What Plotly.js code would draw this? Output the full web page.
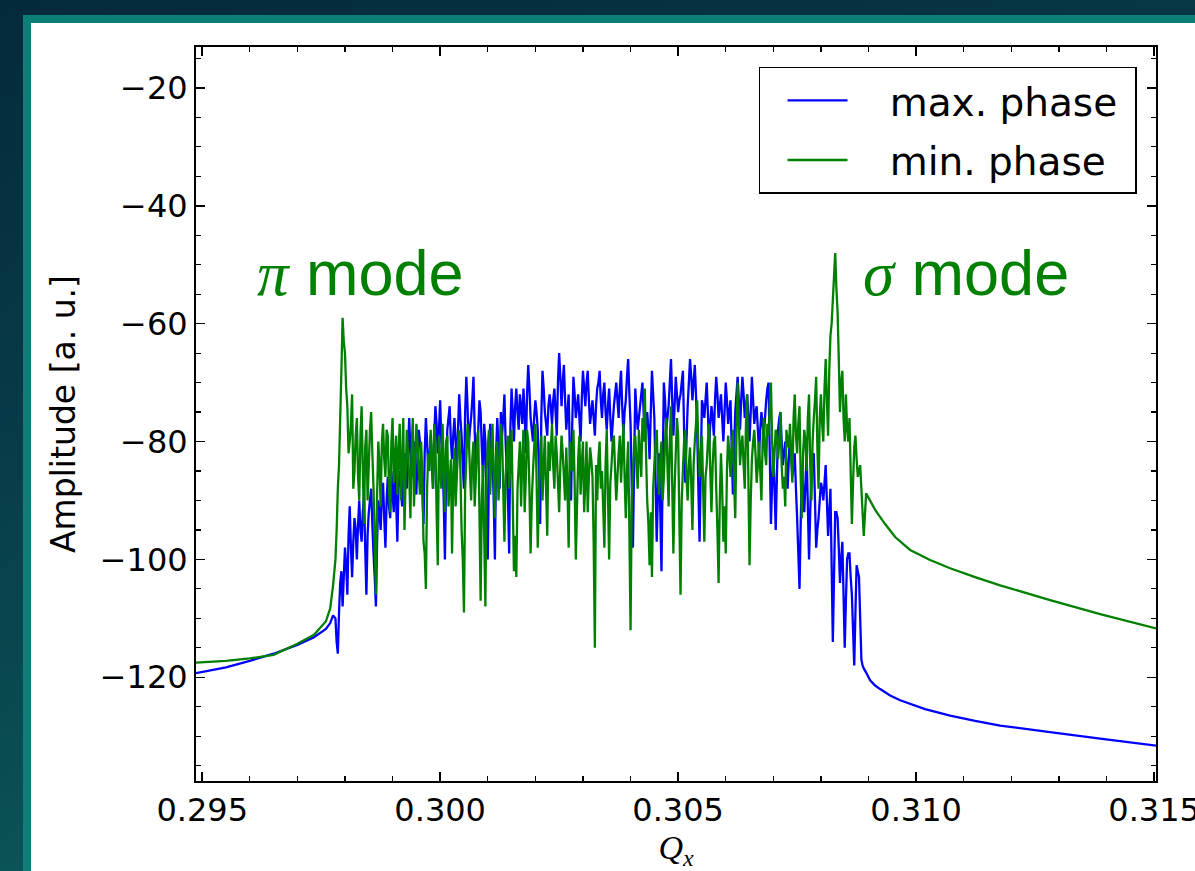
<!DOCTYPE html>
<html>
<head>
<meta charset="utf-8">
<script src="https://cdn.plot.ly/plotly-3.0.1.min.js"></script>
<style>
  html, body { margin:0; padding:0; width:1195px; height:871px; overflow:hidden; }
  body { background: linear-gradient(165deg, #04293a 0%, #073a48 35%, #0a5456 75%, #0b5c5a 100%); position:relative; }
  #frame { position:absolute; left:23px; top:15px; width:1172px; height:856px; background:#0b7f78; }
  #panel { position:absolute; left:31px; top:23px; width:1164px; height:848px; background:#ffffff; }
  #chart { position:absolute; left:0; top:0; width:1195px; height:871px; }
</style>
</head>
<body>
<div id="frame"></div>
<div id="panel"></div>
<div id="chart"></div>
<script>
// ---- data ----
// left smooth tails
const blueLeftQ = [0.29487, 0.29550, 0.29600, 0.29650, 0.29700, 0.29735, 0.29760, 0.29769, 0.29775];
const blueLeftA = [-119.3, -118.3, -117.2, -116.0, -114.5, -113.2, -111.8, -110.8, -109.5];
const greenLeftQ = [0.29487, 0.29550, 0.29600, 0.29650, 0.29700, 0.29735, 0.29760, 0.29769, 0.29775];
const greenLeftA = [-117.5, -117.2, -116.8, -116.2, -114.3, -112.8, -110.5, -108.3, -104.4];

// noisy band, first set of samples
const bandQ = [
0.29780,0.29785,0.29790,0.29795,0.29800,0.29805,0.29810,0.29815,0.29820,0.29825,
0.29830,0.29835,0.29840,0.29845,0.29850,0.29855,0.29860,0.29865,0.29870,0.29875,
0.29880,0.29885,0.29890,0.29895,0.29900,0.29905,0.29910,0.29915,0.29920,0.29925,
0.29930,0.29935,0.29940,0.29945,0.29950,0.29955,0.29960,0.29965,0.29970,0.29975,
0.29980,0.29985,0.29990,0.29995,0.30000,0.30005,0.30010,0.30015,0.30020,0.30025,
0.30030,0.30035,0.30040,0.30045,0.30050,0.30055,0.30060,0.30065,0.30070,0.30075,
0.30080,0.30085,0.30090,0.30095,0.30100,0.30105,0.30110,0.30115,0.30120,0.30125,
0.30130,0.30135,0.30140,0.30145,0.30150,0.30155,0.30160,0.30165,0.30170,0.30175,
0.30180,0.30185,0.30190,0.30195,0.30200,0.30205,0.30210,0.30215,0.30220,0.30225,
0.30230,0.30235,0.30240,0.30245,0.30250,0.30255,0.30260,0.30265,0.30270,0.30275,
0.30280,0.30285,0.30290,0.30295,0.30300,0.30305,0.30310,0.30315,0.30320,0.30325,
0.30330,0.30335,0.30340,0.30345,0.30350,0.30355,0.30360,0.30365,0.30370,0.30375,
0.30380,0.30385,0.30390,0.30395,0.30400,0.30405,0.30410,0.30415,0.30420,0.30425,
0.30430,0.30435,0.30440,0.30445,0.30450,0.30455,0.30460,0.30465,0.30470,0.30475,
0.30480,0.30485,0.30490,0.30495,0.30500,0.30505,0.30510,0.30515,0.30520,0.30525,
0.30530,0.30535,0.30540,0.30545,0.30550,0.30555,0.30560,0.30565,0.30570,0.30575,
0.30580,0.30585,0.30590,0.30595,0.30600,0.30605,0.30610,0.30615,0.30620,0.30625,
0.30630,0.30635,0.30640,0.30645,0.30650,0.30655,0.30660,0.30665,0.30670,0.30675,
0.30680,0.30685,0.30690,0.30695,0.30700,0.30705,0.30710,0.30715,0.30720,0.30725,
0.30730,0.30735,0.30740,0.30745,0.30750,0.30755,0.30760,0.30765,0.30770,0.30775,
0.30780,0.30785,0.30790,0.30795,0.30800,0.30805,0.30810,0.30815,0.30820,0.30825,
0.30830,0.30835,0.30840,0.30845,0.30850,0.30855,0.30860,0.30865,0.30870,0.30875,
0.30880,0.30885,0.30890];

const blueBandA = [
-110,-116,-104,-108,-98,-106,-91,-103,-93,-100,
-90,-97,-89,-106,-92,-88,-99,-108,-90,-95,
-87,-98,-86,-93,-89,-84,-97,-85,-91,-82,
-88,-76,-86,-80,-89,-78,-83,-94,-76,-85,
-79,-88,-74,-82,-73,-84,-100,-78,-74,-83,
-76,-85,-72,-79,-88,-69,-81,-76,-69,-84,
-78,-75,-86,-80,-100,-77,-83,-100,-76,-88,
-79,-72,-85,-99,-71,-80,-71,-78,-74,-71,
-82,-67,-76,-80,-73,-78,-94,-68,-75,-79,
-72,-77,-71,-79,-65,-74,-67,-78,-72,-90,
-69,-76,-72,-80,-68,-74,-68,-77,-73,-79,
-71,-68,-76,-70,-78,-71,-80,-74,-70,-76,
-68,-79,-73,-66,-77,-98,-71,-78,-74,-70,
-80,-75,-83,-68,-76,-97,-82,-102,-70,-78,
-74,-66,-79,-69,-75,-72,-68,-87,-74,-66,
-73,-67,-78,-97,-73,-76,-70,-81,-74,-79,
-69,-76,-72,-80,-70,-77,-73,-89,-75,-69,
-78,-69,-76,-72,-80,-69,-77,-74,-82,-75,
-79,-73,-70,-94,-81,-95,-78,-75,-84,-80,
-88,-79,-86,-82,-93,-105,-84,-92,-82,-100,
-85,-82,-98,-93,-87,-90,-84,-96,-88,-114,
-92,-93,-104,-97,-115,-100,-99,-106,-118,-101,
-103,-117,-118.5];

const greenBandA = [
-100,-88,-76,-59,-65,-74,-80,-72,-85,-76,
-90,-74,-94,-78,-84,-75,-88,-106,-80,-91,
-77,-86,-79,-92,-76,-83,-89,-77,-84,-95,
-78,-86,-81,-91,-77,-85,-80,-97,-105,-82,
-78,-88,-80,-101,-84,-77,-92,-79,-87,-99,
-81,-86,-78,-95,-109,-83,-79,-90,-80,-86,
-78,-107,-84,-108,-81,-89,-77,-93,-80,-85,
-79,-97,-82,-88,-78,-102,-103,-84,-91,-78,
-86,-80,-99,-85,-77,-98,-83,-90,-79,-96,
-85,-77,-88,-82,-92,-79,-86,-81,-98,-84,
-78,-100,-83,-89,-80,-87,-92,-81,-86,-115,
-90,-80,-85,-98,-78,-100,-84,-79,-90,-82,
-87,-77,-93,-80,-112,-85,-79,-88,-82,-76,
-71,-90,-101,-103,-84,-78,-89,-80,-86,-76,
-91,-74,-99,-82,-79,-106,-85,-78,-90,-81,
-95,-80,-73,-86,-79,-97,-84,-77,-92,-80,
-88,-104,-82,-97,-99,-79,-86,-78,-93,-70,
-84,-79,-88,-72,-101,-83,-78,-87,-80,-90,
-76,-84,-79,-70,-86,-78,-83,-75,-88,-91,
-80,-77,-87,-72,-82,-74,-93,-78,-85,-72,
-90,-76,-69,-88,-72,-80,-66,-79,-62,-56,
-48,-58,-75,-68,-80,-78,-76,-94,-81,-83,
-85,-88,-96];

// noisy band, second set of samples (between the first ones)
const band2Q = [
0.297825,0.297875,0.297925,0.297975,0.298025,0.298075,0.298125,0.298175,0.298225,0.298275,
0.298325,0.298375,0.298425,0.298475,0.298525,0.298575,0.298625,0.298675,0.298725,0.298775,
0.298825,0.298875,0.298925,0.298975,0.299025,0.299075,0.299125,0.299175,0.299225,0.299275,
0.299325,0.299375,0.299425,0.299475,0.299525,0.299575,0.299625,0.299675,0.299725,0.299775,
0.299825,0.299875,0.299925,0.299975,0.300025,0.300075,0.300125,0.300175,0.300225,0.300275,
0.300325,0.300375,0.300425,0.300475,0.300525,0.300575,0.300625,0.300675,0.300725,0.300775,
0.300825,0.300875,0.300925,0.300975,0.301025,0.301075,0.301125,0.301175,0.301225,0.301275,
0.301325,0.301375,0.301425,0.301475,0.301525,0.301575,0.301625,0.301675,0.301725,0.301775,
0.301825,0.301875,0.301925,0.301975,0.302025,0.302075,0.302125,0.302175,0.302225,0.302275,
0.302325,0.302375,0.302425,0.302475,0.302525,0.302575,0.302625,0.302675,0.302725,0.302775,
0.302825,0.302875,0.302925,0.302975,0.303025,0.303075,0.303125,0.303175,0.303225,0.303275,
0.303325,0.303375,0.303425,0.303475,0.303525,0.303575,0.303625,0.303675,0.303725,0.303775,
0.303825,0.303875,0.303925,0.303975,0.304025,0.304075,0.304125,0.304175,0.304225,0.304275,
0.304325,0.304375,0.304425,0.304475,0.304525,0.304575,0.304625,0.304675,0.304725,0.304775,
0.304825,0.304875,0.304925,0.304975,0.305025,0.305075,0.305125,0.305175,0.305225,0.305275,
0.305325,0.305375,0.305425,0.305475,0.305525,0.305575,0.305625,0.305675,0.305725,0.305775,
0.305825,0.305875,0.305925,0.305975,0.306025,0.306075,0.306125,0.306175,0.306225,0.306275,
0.306325,0.306375,0.306425,0.306475,0.306525,0.306575,0.306625,0.306675,0.306725,0.306775,
0.306825,0.306875,0.306925,0.306975,0.307025,0.307075,0.307125,0.307175,0.307225,0.307275,
0.307325,0.307375,0.307425,0.307475,0.307525,0.307575,0.307625,0.307675,0.307725,0.307775,
0.307825,0.307875,0.307925,0.307975,0.308025,0.308075,0.308125,0.308175,0.308225,0.308275,
0.308325,0.308375,0.308425,0.308475,0.308525,0.308575,0.308625,0.308675,0.308725,0.308775,
0.308825,0.308875];

const blueBand2A = [
-114,-109,-102,-103,-101,-96,-98,-97,-95,-94,
-95,-92,-98,-96,-90,-94,-103,-97,-92,-89,
-93,-90,-91,-85,-92,-90,-88,-87,-84,-85,
-81,-82,-84,-85,-82,-80,-88,-82,-80,-83,
-84,-79,-77,-78,-80,-90,-86,-76,-80,-79,
-80,-78,-76,-84,-75,-74,-78,-73,-78,-80,
-73,-81,-77,-90,-85,-79,-90,-82,-81,-75,
-76,-80,-90,-78,-75,-74,-75,-72,-77,-75,
-72,-71,-78,-76,-75,-85,-76,-71,-77,-74,
-74,-73,-75,-70,-69,-70,-73,-75,-82,-77,
-72,-74,-76,-73,-71,-70,-73,-75,-76,-74,
-70,-73,-72,-75,-74,-76,-77,-72,-73,-71,
-74,-75,-69,-72,-87,-84,-75,-76,-72,-75,
-77,-78,-75,-72,-86,-89,-92,-85,-73,-76,
-70,-73,-74,-72,-73,-70,-78,-80,-70,-69,
-70,-72,-88,-85,-74,-73,-75,-77,-76,-73,
-72,-74,-76,-75,-73,-75,-81,-82,-72,-73,
-73,-72,-74,-76,-75,-73,-75,-78,-78,-77,
-76,-71,-82,-87,-88,-86,-76,-80,-82,-84,
-83,-82,-84,-88,-99,-94,-88,-87,-91,-92,
-83,-90,-95,-90,-88,-87,-90,-92,-101,-103,
-92,-98,-100,-106,-107,-99,-103,-112,-109,-102,
-110,-118];

const greenBand2A = [
-95,-84,-68,-63,-71,-82,-77,-88,-79,-86,
-79,-85,-81,-90,-78,-82,-97,-89,-84,-80,
-83,-78,-88,-80,-87,-79,-82,-90,-76,-86,
-82,-93,-76,-84,-80,-89,-86,-99,-88,-85,
-83,-77,-92,-79,-88,-84,-80,-91,-83,-86,
-91,-80,-85,-100,-88,-77,-85,-83,-91,-80,
-92,-90,-96,-85,-78,-83,-86,-82,-90,-77,
-88,-86,-79,-84,-90,-96,-88,-80,-83,-92,
-78,-88,-90,-81,-86,-89,-79,-84,-88,-80,
-81,-84,-79,-87,-84,-82,-90,-88,-80,-85,
-87,-91,-79,-84,-92,-80,-86,-83,-97,-84,
-83,-88,-91,-84,-89,-87,-80,-85,-86,-79,
-82,-86,-85,-95,-90,-81,-84,-78,-86,-80,
-82,-94,-92,-88,-80,-85,-83,-90,-80,-84,
-80,-87,-88,-76,-93,-90,-80,-86,-84,-87,
-84,-77,-81,-82,-88,-86,-80,-85,-84,-79,
-95,-90,-88,-91,-85,-82,-81,-87,-79,-76,
-81,-84,-77,-86,-90,-80,-82,-84,-85,-80,
-82,-77,-74,-80,-82,-79,-80,-84,-86,-78,
-81,-83,-76,-79,-77,-86,-82,-80,-76,-84,
-80,-73,-81,-76,-77,-71,-73,-68,-60,-52,
-54,-66,-70,-76,-72,-80,-85,-87,-79,-86,
-84,-92];

// right smooth tails
const blueRightQ = [0.308950, 0.309034, 0.309139, 0.309244, 0.309454, 0.309664, 0.310189, 0.310714, 0.311239, 0.311765, 0.312815, 0.313866, 0.315042];
const blueRightA = [-119.2, -120.5, -121.4, -122.0, -123.1, -123.9, -125.4, -126.5, -127.4, -128.2, -129.3, -130.4, -131.6];
const greenRightQ = [0.308950, 0.309139, 0.309349, 0.309559, 0.309874, 0.310294, 0.310714, 0.311239, 0.311765, 0.312815, 0.313866, 0.315042];
const greenRightA = [-88.8, -91.6, -94.0, -96.2, -98.4, -100.1, -101.5, -103.0, -104.4, -106.9, -109.3, -111.7];

const seriesNames = ['max. phase', 'min. phase'];
const seriesColors = ['#0000ff', '#008000'];
const modeLabels = ['<span style="font-family:\'Liberation Serif\',serif"><i>π</i></span> mode',
                    '<span style="font-family:\'Liberation Serif\',serif"><i>σ</i></span> mode'];
const modeLabelQ = [0.29610, 0.30884];
const modeLabelA = [-51.5, -51.5];

// merge the two interleaved sample sets by Q
function mergeSorted(qa, aa, qb, ab) {
  const pts = [];
  qa.forEach((q, i) => pts.push([q, aa[i]]));
  qb.forEach((q, i) => pts.push([q, ab[i]]));
  pts.sort((p, r) => p[0] - r[0]);
  return [pts.map(p => p[0]), pts.map(p => p[1])];
}
const [bBandQ, bBandA] = mergeSorted(bandQ, blueBandA, band2Q, blueBand2A);
const [gBandQ, gBandA] = mergeSorted(bandQ, greenBandA, band2Q, greenBand2A);

const blueQ = blueLeftQ.concat(bBandQ, blueRightQ);
const blueA = blueLeftA.concat(bBandA, blueRightA);
const greenQ = greenLeftQ.concat(gBandQ, greenRightQ);
const greenA = greenLeftA.concat(gBandA, greenRightA);

const nb = '\u00a0';
const traces = [
  {x: blueQ, y: blueA, type:'scatter', mode:'lines', name: nb+nb+nb+seriesNames[0]+nb, legendgroup:'a',
   line:{color: seriesColors[0], width:2.3, simplify:false}},
  {x: greenQ, y: greenA, type:'scatter', mode:'lines', name: nb+nb+nb+seriesNames[1]+nb, legendgroup:'b',
   line:{color: seriesColors[1], width:2.3, simplify:false}}
];

const tickFont = {family:'DejaVu Sans', size:32, color:'#000'};
const axisCommon = {
  showline:true, linecolor:'#000', linewidth:2, mirror:'ticks',
  ticks:'inside', ticklen:9, tickwidth:1.5, tickcolor:'#000',
  showgrid:false, zeroline:false, tickfont: tickFont, ticklabeloverflow:'allow'
};

const layout = {
  width:1195, height:871,
  margin:{l:196, r:39, t:47, b:90},
  paper_bgcolor:'rgba(0,0,0,0)', plot_bgcolor:'#ffffff',
  showlegend:true,
  legend:{x:0.9802, xanchor:'right', y:0.9728, yanchor:'top',
          bgcolor:'#ffffff', bordercolor:'#000', borderwidth:1.5,
          font:{family:'DejaVu Sans', size:39, color:'#000'},
          tracegroupgap:6, itemwidth:60, indentation:22},
  xaxis: Object.assign({}, axisCommon, {
    range:[0.29487, 0.31504], dtick:0.005, tick0:0.295, tickformat:'.3f',
    minor:{ticks:'inside', ticklen:5, tickwidth:1.2, tickcolor:'#000', dtick:0.001, tick0:0.295, showgrid:false},
    title:{text:'<i>Q</i><sub><i>x</i></sub>', font:{family:'Liberation Serif', size:34, color:'#000'}, standoff:10}
  }),
  yaxis: Object.assign({}, axisCommon, {
    range:[-137.6, -13.05], dtick:20, tick0:-20,
    minor:{ticks:'inside', ticklen:5, tickwidth:1.2, tickcolor:'#000', dtick:5, tick0:-20, showgrid:false},
    title:{text:'Amplitude [a. u.]', font:{family:'DejaVu Sans', size:33, color:'#000'}, standoff:14}
  }),
  annotations: [0,1].map(i => ({
    x: modeLabelQ[i], y: modeLabelA[i], xref:'x', yref:'y', xanchor:'left', yanchor:'middle',
    text: modeLabels[i], showarrow:false,
    font:{family:'Liberation Sans', size:63, color:'#008000'}
  }))
};

Plotly.newPlot('chart', traces, layout, {staticPlot:true, displayModeBar:false});
</script>
</body>
</html>
